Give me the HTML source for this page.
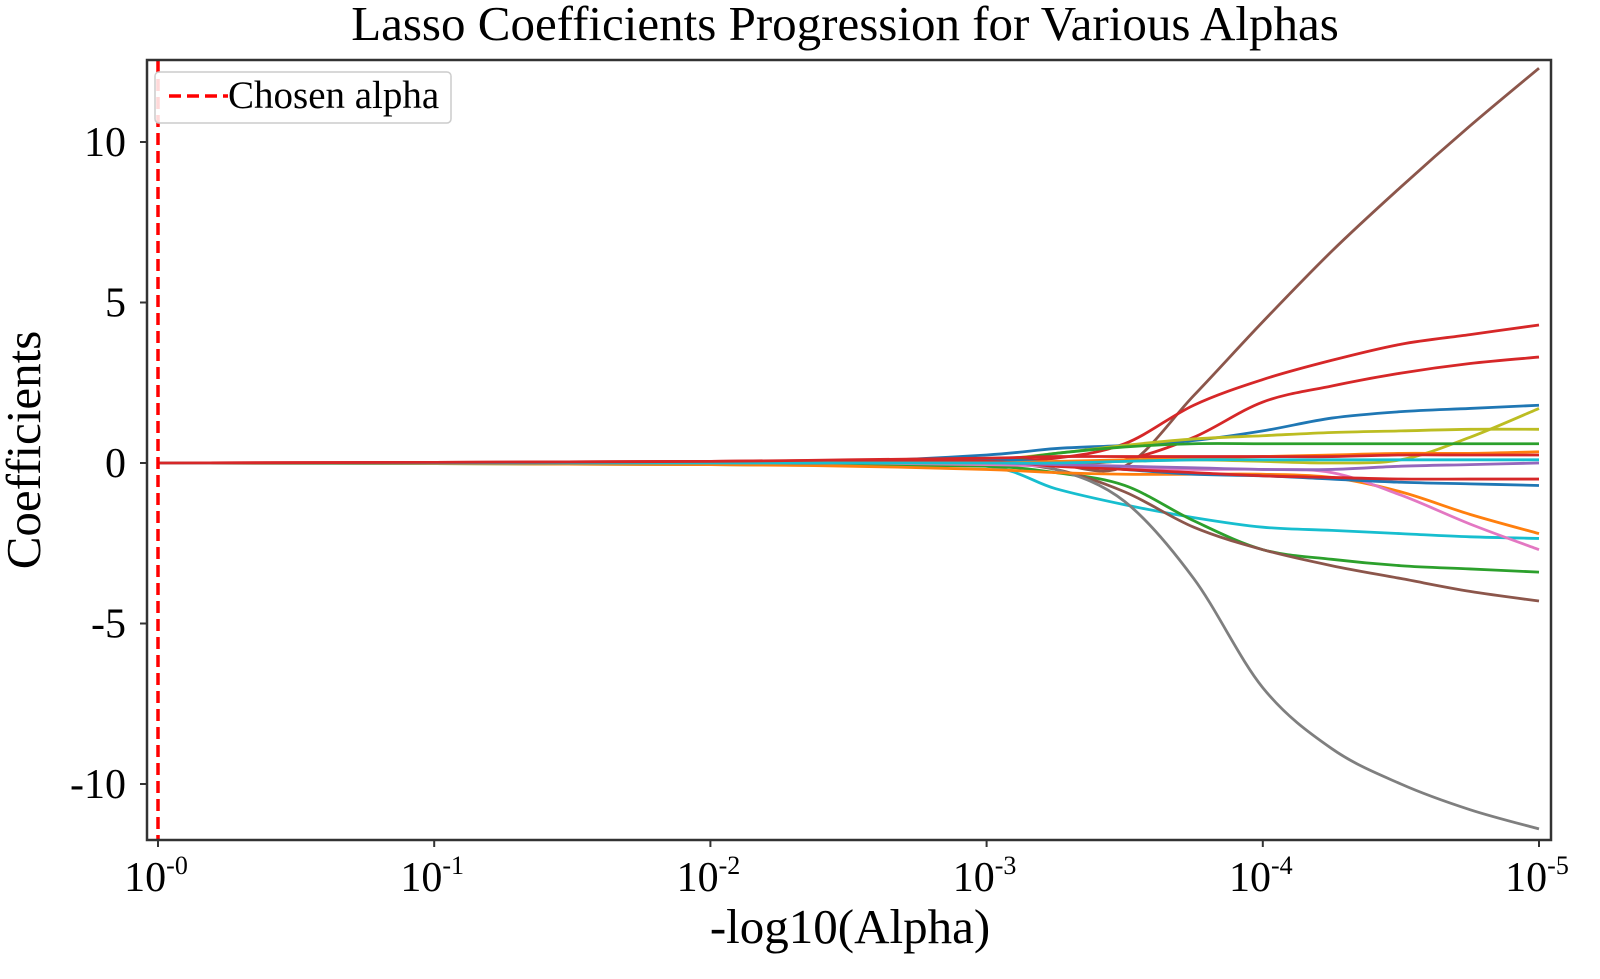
<!DOCTYPE html>
<html><head><meta charset="utf-8"><style>
body{margin:0;background:#fff}
svg text{font-family:"Liberation Serif",serif;fill:#000}
</style></head><body>
<svg id="chart" width="1600" height="974">
<text x="845" y="40" font-size="49" text-anchor="middle">Lasso Coefficients Progression for Various Alphas</text>
<g id="lines"></g>
<g id="axes"></g>
<rect x="147" y="60" width="1404" height="780" fill="none" stroke="#333" stroke-width="2.5"/>
<text x="850" y="943" font-size="49" text-anchor="middle">-log10(Alpha)</text>
<text transform="translate(40,450) rotate(-90)" font-size="49" text-anchor="middle">Coefficients</text>
<g>
<rect x="155" y="72" width="296" height="51" rx="4" fill="#fff" fill-opacity="0.85" stroke="#ccc" stroke-width="1.5"/>
<line x1="169" y1="96" x2="228" y2="96" stroke="#f00" stroke-width="3.5" stroke-dasharray="12,6"/>
<text x="228" y="108" font-size="39">Chosen alpha</text>
</g>
</svg>
<script>
const xsLog=[0,1,2,2.5,3,3.25,3.5,3.75,4,4.25,4.5,4.75,5];
const xTickVals=[0,1,2,3,4,5];
const yTickVals=[10,5,0,-5,-10];
const chosenAlpha=0;
const seriesColors=["#8c564b","#d62728","#d62728","#1f77b4","#bcbd22","#bcbd22","#2ca02c","#17becf","#2ca02c","#8c564b","#7f7f7f","#ff7f0e","#e377c2","#1f77b4","#d62728","#9467bd","#ff7f0e","#17becf","#d62728"];
const brownUp=[0,0,0,0,0,-0.05,-0.1,2.1,4.4,6.6,8.6,10.5,12.3];
const redTop=[0,0.02,0.05,0.08,0.1,0.15,0.6,1.8,2.6,3.2,3.7,4.0,4.3];
const red2=[0,0.02,0.05,0.08,0.1,0.0,0.1,0.8,1.9,2.4,2.8,3.1,3.3];
const blueTop=[0,0,0.02,0.05,0.25,0.45,0.55,0.7,1.0,1.4,1.6,1.7,1.8];
const oliveFlat=[0,0,0,0.02,0.1,0.3,0.55,0.75,0.85,0.95,1.0,1.05,1.05];
const oliveRise=[0,0,0,0,0,0,0.05,0.1,0.05,0.0,0.1,0.8,1.7];
const greenTop=[0,0,0,0,0.05,0.3,0.5,0.6,0.6,0.6,0.6,0.6,0.6];
const cyanLow=[0,0,-0.02,-0.05,-0.1,-0.8,-1.3,-1.7,-2.0,-2.1,-2.2,-2.3,-2.35];
const greenLow=[0,-0.02,-0.05,-0.08,-0.1,-0.3,-0.7,-1.8,-2.7,-3.0,-3.2,-3.3,-3.4];
const brownLow=[0,0,0,0,0,-0.2,-0.9,-2.0,-2.7,-3.2,-3.6,-4.0,-4.3];
const grayLow=[0,0,0,0,0,-0.2,-1.2,-3.6,-7.0,-8.9,-10.0,-10.8,-11.4];
const orangeDown=[0,-0.02,-0.05,-0.1,-0.2,-0.3,-0.35,-0.35,-0.35,-0.45,-0.9,-1.6,-2.2];
const pinkDown=[0,0,0,0,-0.05,-0.1,-0.15,-0.2,-0.2,-0.3,-1.0,-1.9,-2.7];
const blueNeg=[0,0,0,0,0.1,0,-0.2,-0.35,-0.4,-0.5,-0.6,-0.65,-0.7];
const redNeg=[0,0.01,0.03,0.05,0.05,-0.1,-0.2,-0.3,-0.4,-0.45,-0.5,-0.5,-0.5];
const purpleFlat=[0,0,0,0,0,-0.05,-0.1,-0.15,-0.2,-0.2,-0.1,-0.05,0];
const orangeUp=[0,0,0,0,0,0.05,0.1,0.15,0.2,0.25,0.3,0.3,0.35];
const cyanFlat=[0,0,0,0,0,0,0.05,0.1,0.1,0.1,0.1,0.1,0.1];
const redFlat=[0,0.02,0.05,0.1,0.15,0.2,0.2,0.2,0.2,0.2,0.25,0.25,0.25];
const allSeries=[brownUp,redTop,red2,blueTop,oliveFlat,oliveRise,greenTop,cyanLow,greenLow,brownLow,grayLow,orangeDown,pinkDown,blueNeg,redNeg,purpleFlat,orangeUp,cyanFlat,redFlat];

const NS="http://www.w3.org/2000/svg";
const X0=158,X1=1539,YZ=463,YU=32.1;
function xs(v){return X0+(X1-X0)*v/5;}
function ys(v){return YZ-v*YU;}
function path(pts){
  let d="M"+pts[0][0]+","+pts[0][1];
  for(let i=0;i<pts.length-1;i++){
    const p0=pts[Math.max(0,i-1)],p1=pts[i],p2=pts[i+1],p3=pts[Math.min(pts.length-1,i+2)];
    const c1=[p1[0]+(p2[0]-p0[0])/6,p1[1]+(p2[1]-p0[1])/6];
    const c2=[p2[0]-(p3[0]-p1[0])/6,p2[1]-(p3[1]-p1[1])/6];
    d+=" C"+c1[0]+","+c1[1]+" "+c2[0]+","+c2[1]+" "+p2[0]+","+p2[1];
  }
  return d;
}
const lg=document.getElementById("lines");
allSeries.forEach((s,i)=>{
  const p=document.createElementNS(NS,"path");
  p.setAttribute("d",path(s.map((v,j)=>[xs(xsLog[j]),ys(v)])));
  p.setAttribute("fill","none");
  p.setAttribute("stroke",seriesColors[i]);
  p.setAttribute("stroke-width","2.8");
  
  
  lg.appendChild(p);
});
const cl=document.createElementNS(NS,"line");
cl.setAttribute("x1",xs(chosenAlpha));cl.setAttribute("x2",xs(chosenAlpha));
cl.setAttribute("y1",61);cl.setAttribute("y2",839);
cl.setAttribute("stroke","#f00");cl.setAttribute("stroke-width","3.5");cl.setAttribute("stroke-dasharray","12,6");


lg.appendChild(cl);
const ax=document.getElementById("axes");
xTickVals.forEach(v=>{
  const t=document.createElementNS(NS,"line");
  t.setAttribute("x1",xs(v));t.setAttribute("x2",xs(v));t.setAttribute("y1",840);t.setAttribute("y2",847);t.setAttribute("stroke","#333");t.setAttribute("stroke-width","2");
  
  
  ax.appendChild(t);
  const tx=document.createElementNS(NS,"text");
  tx.setAttribute("x",xs(v)-2);tx.setAttribute("y",891);tx.setAttribute("font-size","42");tx.setAttribute("text-anchor","middle");
  tx.innerHTML='10<tspan dy="-17" font-size="26">-'+v+'</tspan>';
  
  
  ax.appendChild(tx);
});
yTickVals.forEach(v=>{
  const t=document.createElementNS(NS,"line");
  t.setAttribute("x1",140);t.setAttribute("x2",147);t.setAttribute("y1",ys(v));t.setAttribute("y2",ys(v));t.setAttribute("stroke","#333");t.setAttribute("stroke-width","2");
  
  
  ax.appendChild(t);
  const tx=document.createElementNS(NS,"text");
  tx.setAttribute("x",126);tx.setAttribute("y",ys(v)+14);tx.setAttribute("font-size","42");tx.setAttribute("text-anchor","end");
  tx.textContent=v;
  
  
  ax.appendChild(tx);
});
</script>
</body></html>
